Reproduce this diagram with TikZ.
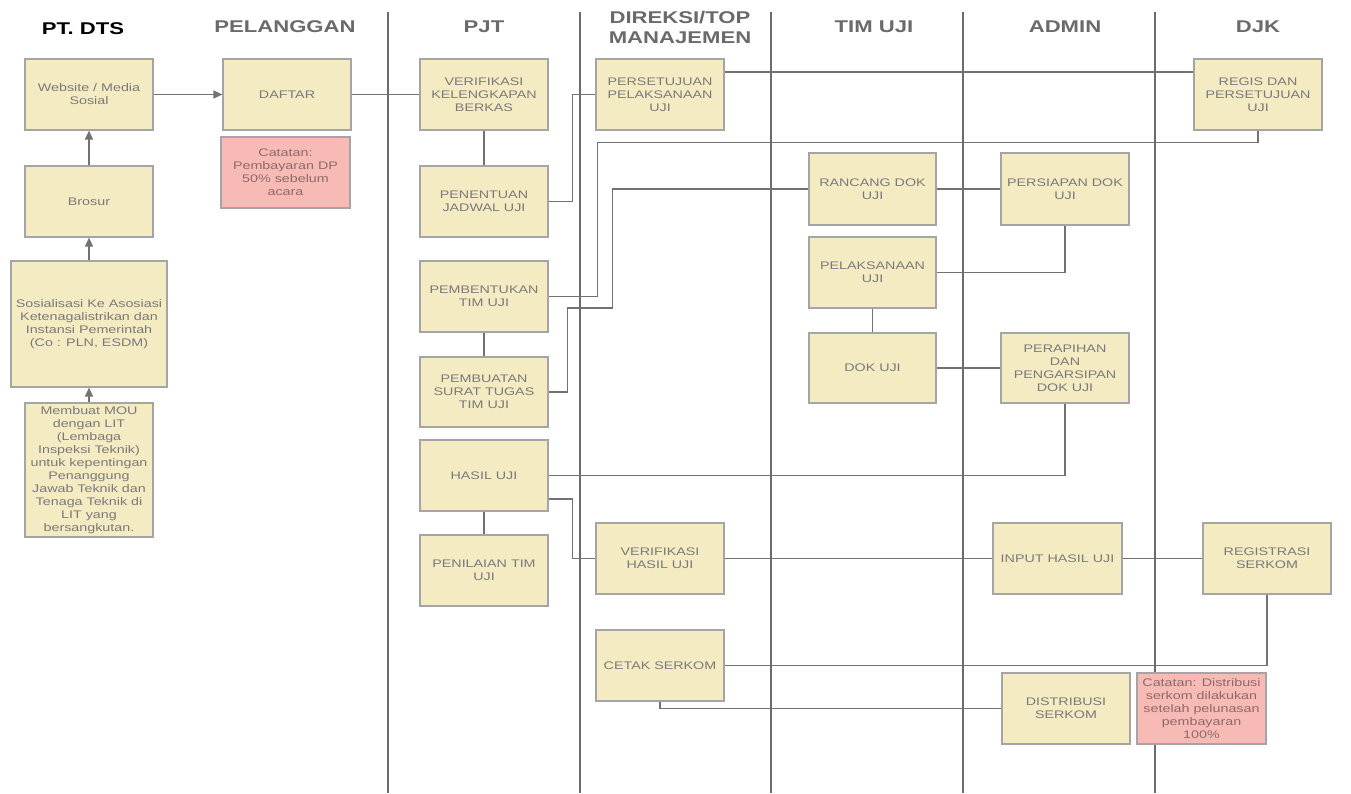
\documentclass[tikz,border=0pt]{standalone}
\usepackage{fontspec}
\setmainfont{Liberation Sans}[FakeStretch=1.3]
\usetikzlibrary{arrows.meta}
\definecolor{boxfill}{HTML}{F4EBC3}
\definecolor{boxline}{HTML}{A5A5A5}
\definecolor{boxtext}{HTML}{7A7A7A}
\definecolor{notefill}{HTML}{F8BAB4}
\definecolor{notetext}{HTML}{8E6A6A}
\definecolor{laneline}{HTML}{6C6C6C}
\definecolor{connline}{HTML}{727272}
\definecolor{hdrgray}{HTML}{6A6A6A}
\begin{document}
\begin{tikzpicture}[x=1pt,y=-1pt,
  box/.style={draw=boxline, fill=boxfill, line width=1.2pt, minimum width=128pt, minimum height=71pt,
    align=center, font=\fontsize{11}{13}\selectfont, text=boxtext, inner sep=2pt},
  notebox/.style={box, fill=notefill, text=notetext},
  lane/.style={draw=laneline, line width=1.4pt},
  conn/.style={draw=connline, line width=1.4pt},
  arr/.style={conn, -{Triangle[length=9pt,width=8pt]}},
  hdr/.style={font=\fontsize{17}{20}\selectfont\bfseries, text=hdrgray, align=center}]
\useasboundingbox (0,0) rectangle (1351,793);
\fill[white] (0,0) rectangle (1351,793);

% lane lines
\foreach \lx in {388,580,771,963,1155} \draw[lane] (\lx,12) -- (\lx,793);

% headers
\node[hdr, text=black] (hdts) at (83,29) {PT. DTS};
\node[hdr] (hpel) at (285,27) {PELANGGAN};
\node[hdr] (hpjt) at (484,27) {PJT};
\node[hdr] (hdir) at (680,27) {DIREKSI/TOP\\MANAJEMEN};
\node[hdr] (htim) at (874,27) {TIM UJI};
\node[hdr] (hadm) at (1065,27) {ADMIN};
\node[hdr] (hdjk) at (1258,27) {DJK};

% PT. DTS
\node[box] (web) at (89,94.5) {Website / Media\\Sosial};
\node[box] (brosur) at (89,201.5) {Brosur};
\node[box, minimum width=156pt, minimum height=126pt] (sos) at (89,324) {Sosialisasi Ke Asosiasi\\Ketenagalistrikan dan\\Instansi Pemerintah\\(Co : PLN, ESDM)};
\node[box, minimum height=134pt] (mou) at (89,470) {Membuat MOU\\dengan LIT\\(Lembaga\\Inspeksi Teknik)\\untuk kepentingan\\Penanggung\\Jawab Teknik dan\\Tenaga Teknik di\\LIT yang\\bersangkutan.};

% PELANGGAN
\node[box] (daftar) at (287,94.5) {DAFTAR};
\node[notebox, minimum width=129pt] (note1) at (285.5,172.5) {Catatan:\\Pembayaran DP\\50\% sebelum\\acara};

% PJT
\node[box] (verif) at (484,94.5) {VERIFIKASI\\KELENGKAPAN\\BERKAS};
\node[box] (penentuan) at (484,201.5) {PENENTUAN\\JADWAL UJI};
\node[box] (pembentukan) at (484,296.5) {PEMBENTUKAN\\TIM UJI};
\node[box, minimum height=70pt] (pembuatan) at (484,392) {PEMBUATAN\\SURAT TUGAS\\TIM UJI};
\node[box] (hasil) at (484,475.5) {HASIL UJI};
\node[box] (penilaian) at (484,570.5) {PENILAIAN TIM\\UJI};

% DIREKSI
\node[box] (persetujuan) at (660,94.5) {PERSETUJUAN\\PELAKSANAAN\\UJI};
\node[box] (verhasil) at (660,558.5) {VERIFIKASI\\HASIL UJI};
\node[box] (cetak) at (660,665.5) {CETAK SERKOM};

% TIM UJI
\node[box, minimum width=127pt, minimum height=72pt] (rancang) at (872.5,189) {RANCANG DOK\\UJI};
\node[box, minimum width=127pt] (pelaksanaan) at (872.5,272.5) {PELAKSANAAN\\UJI};
\node[box, minimum width=127pt, minimum height=70pt] (dok) at (872.5,368) {DOK UJI};

% ADMIN
\node[box, minimum height=72pt] (persiapan) at (1065,189) {PERSIAPAN DOK\\UJI};
\node[box, minimum height=70pt] (perapihan) at (1065,368) {PERAPIHAN\\DAN\\PENGARSIPAN\\DOK UJI};
\node[box, minimum width=129pt] (input) at (1057.5,558.5) {INPUT HASIL UJI};
\node[box] (distribusi) at (1066,708.5) {DISTRIBUSI\\SERKOM};

% DJK
\node[box] (regis) at (1258,94.5) {REGIS DAN\\PERSETUJUAN\\UJI};
\node[box] (registrasi) at (1267,558.5) {REGISTRASI\\SERKOM};
\node[notebox, minimum width=129pt] (note2) at (1201.5,708.5) {Catatan: Distribusi\\serkom dilakukan\\setelah pelunasan\\pembayaran\\100\%};

% connectors
\draw[arr] (mou.north) -- (sos.south);
\draw[arr] (sos.north) -- (brosur.south);
\draw[arr] (brosur.north) -- (web.south);
\draw[arr] (web.east) -- (daftar.west);
\draw[conn] (daftar.east) -- (verif.west);
\draw[conn] (verif.south) -- (penentuan.north);
\draw[conn] (penentuan.east) -- ++(24,0) |- (persetujuan.west);
\draw[conn] ([yshift=22.5pt]persetujuan.east) -- ([yshift=22.5pt]regis.west);
\draw[conn] (regis.south) -- ++(0,12) -| ([xshift=49pt]pembentukan.east) -- (pembentukan.east);
\draw[conn] (pembentukan.south) -- (pembuatan.north);
\draw[conn] (pembuatan.east) -- ++(19,0) -- ++(0,-84) -- ++(45,0) |- (rancang.west);
\draw[conn] (rancang.east) -- (persiapan.west);
\draw[conn] (persiapan.south) |- (pelaksanaan.east);
\draw[conn] (pelaksanaan.south) -- (dok.north);
\draw[conn] (dok.east) -- (perapihan.west);
\draw[conn] (perapihan.south) |- (hasil.east);
\draw[conn] (hasil.south) -- (penilaian.north);
\draw[conn] ([yshift=-23.5pt]hasil.east) -- ++(24,0) |- (verhasil.west);
\draw[conn] (verhasil.east) -- (input.west);
\draw[conn] (input.east) -- (registrasi.west);
\draw[conn] (registrasi.south) |- (cetak.east);
\draw[conn] (cetak.south) |- (distribusi.west);
\end{tikzpicture}
\end{document}
